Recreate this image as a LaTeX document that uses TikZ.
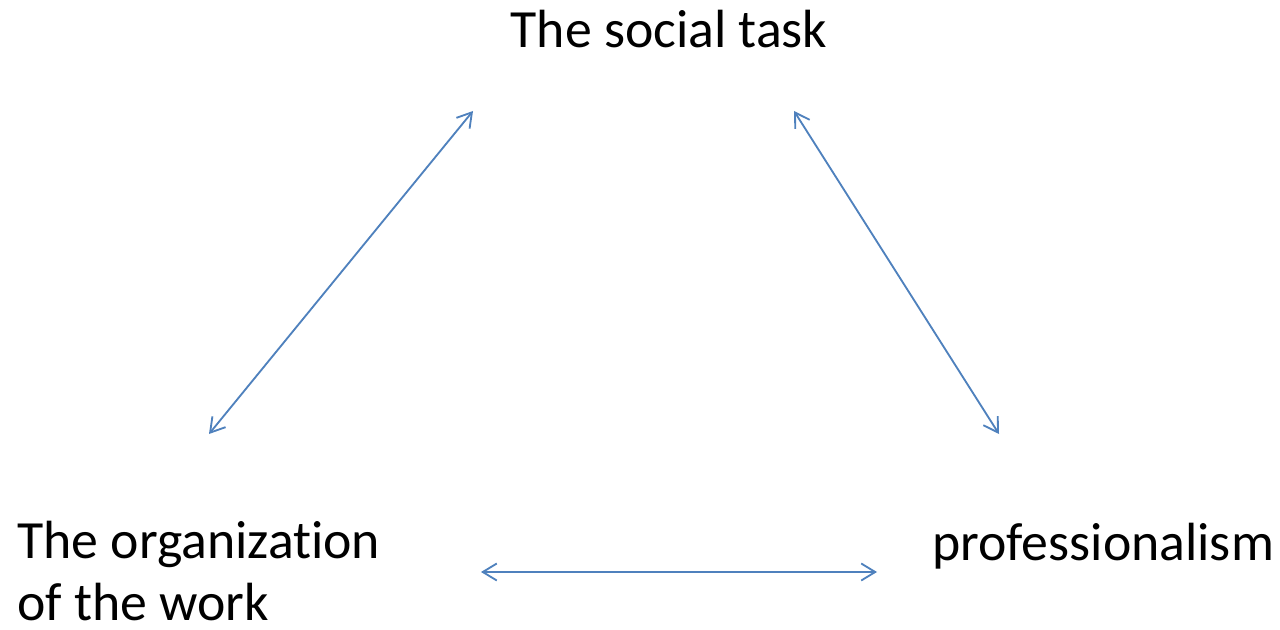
\documentclass[tikz,border=0pt]{standalone}
\usepackage{fontspec}
\setmainfont[Ligatures=NoCommon]{Carlito}
\usetikzlibrary{arrows.meta}
\definecolor{linkblue}{HTML}{4F81BD}
\begin{document}
\begin{tikzpicture}[
        label/.style = {inner sep=0pt, font=\fontsize{30.6}{35}\selectfont},
        link/.style = {{Straight Barb[length=2.8mm,width=3.4mm]}-{Straight Barb[length=2.8mm,width=3.4mm]}, linkblue, line width=1.05pt}]
        \useasboundingbox (0,0) rectangle (25.6,12.58);
        \node[label, anchor=base] (social) at (13.38,11.62) {The social task};
        \node[label, anchor=base west, align=left] (organization) at (0.34,0.18) {The organization\\of the work};
        \node[label, anchor=base west] (professionalism) at (18.64,1.38) {professionalism};
        \coordinate (socialL) at (9.46,10.36);
        \coordinate (socialR) at (15.88,10.36);
        \coordinate (organizationT) at (4.18,3.90);
        \coordinate (organizationR) at (9.62,1.14);
        \coordinate (professionalismT) at (19.98,3.90);
        \coordinate (professionalismL) at (17.54,1.14);
        \draw[link] (organizationT) -- (socialL);
        \draw[link] (socialR) -- (professionalismT);
        \draw[link] (organizationR) -- (professionalismL);
    \end{tikzpicture}
\end{document}
